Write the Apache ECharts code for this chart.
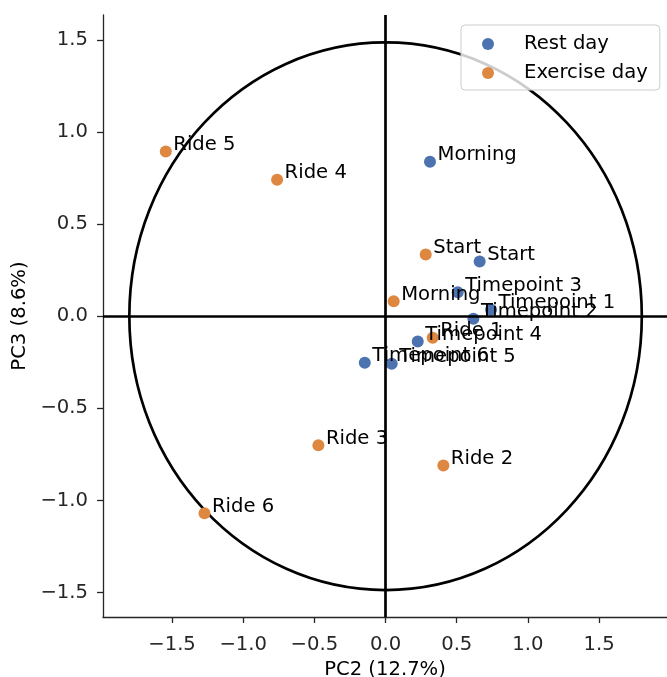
<!DOCTYPE html>
<html>
<head>
<meta charset="utf-8">
<script src="https://cdn.jsdelivr.net/npm/echarts@6/dist/echarts.min.js"></script>
<style>
  html, body { margin: 0; padding: 0; background: #ffffff; }
  #chart { width: 667px; height: 677px; }
</style>
</head>
<body>
<div id="chart"></div>
<script>
// PCA scores (PC2 vs PC3) for the two sampling days
const restNames = ['Morning', 'Start', 'Timepoint 3', 'Timepoint 1', 'Timepoint 2', 'Timepoint 4', 'Timepoint 6', 'Timepoint 5'];
const restPC2   = [0.312, 0.661, 0.507, 0.741, 0.617, 0.226, -0.146, 0.043];
const restPC3   = [0.839, 0.297, 0.130, 0.036, -0.014, -0.137, -0.253, -0.258];

const exerciseNames = ['Ride 5', 'Ride 4', 'Start', 'Morning', 'Ride 1', 'Ride 3', 'Ride 2', 'Ride 6'];
const exercisePC2   = [-1.544, -0.762, 0.282, 0.057, 0.331, -0.472, 0.406, -1.272];
const exercisePC3   = [0.895, 0.741, 0.335, 0.081, -0.116, -0.700, -0.810, -1.070];

const seriesNames = ['Rest day', 'Exercise day'];
const tickValues = [-1.5, -1.0, -0.5, 0.0, 0.5, 1.0, 1.5];
const xRange = [-1.985, 1.977];
const yRange = [-1.633, 1.636];

// confidence ellipse: centre and semi-axes in data units
const ellipseCentre = [0, 0];
const ellipseRadii = [1.80, 1.487];
// reference cross through the origin
const crossAt = [0, 0];

const FONT = 'DejaVu Sans';
const FS = 19.6;
const TEXT = '#000000';
const AXIS = '#262626';
const fmt = v => v.toFixed(1).replace('-', '\u2212');

function points(xs, ys, names) {
  return xs.map((x, i) => ({ name: names[i], value: [x, ys[i], names[i]] }));
}

const pointLabel = {
  show: true,
  formatter: p => p.data.name,
  position: [13.5, -0.6],
  align: 'left',
  verticalAlign: 'middle',
  fontFamily: FONT,
  fontSize: FS,
  lineHeight: FS,
  color: TEXT
};

function axisCommon(name) {
  return {
    type: 'value',
    name: name,
    nameLocation: 'middle',
    nameTextStyle: { fontFamily: FONT, fontSize: FS, color: TEXT },
    axisLine: { show: true, onZero: false, lineStyle: { color: AXIS, width: 1.3 } },
    axisTick: { show: true, length: 6, customValues: tickValues, lineStyle: { color: AXIS, width: 1.3 } },
    axisLabel: { customValues: tickValues, formatter: fmt, fontFamily: FONT, fontSize: FS, color: AXIS },
    splitLine: { show: false }
  };
}

const xAxis = axisCommon('PC2 (12.7%)');
Object.assign(xAxis, { min: xRange[0], max: xRange[1], nameGap: 42 });
xAxis.axisLabel.margin = 18;

const yAxis = axisCommon('PC3 (8.6%)');
Object.assign(yAxis, { min: yRange[0], max: yRange[1], nameGap: 70, nameRotate: 90 });
yAxis.axisLabel.margin = 15;

const chart = echarts.init(document.getElementById('chart'), null, { renderer: 'canvas' });

chart.setOption({
  animation: false,
  backgroundColor: '#ffffff',
  grid: { left: 103, right: 0, top: 15, bottom: 60, outerBoundsMode: 'none' },
  xAxis: xAxis,
  yAxis: yAxis,
  legend: {
    data: seriesNames,
    orient: 'vertical',
    left: 461,
    top: 25,
    padding: [9, 12, 7, 21],
    itemWidth: 12,
    itemHeight: 12,
    itemGap: 9,
    icon: 'circle',
    backgroundColor: 'rgba(255,255,255,0.8)',
    borderColor: '#cccccc',
    borderWidth: 1,
    borderRadius: 4,
    textStyle: { fontFamily: FONT, fontSize: FS, lineHeight: 19, color: TEXT, padding: [0, 0, 0, 25] }
  },
  series: [
    {
      type: 'custom',
      name: 'ellipse',
      coordinateSystem: 'cartesian2d',
      silent: true,
      z: 1,
      data: [[ellipseCentre[0], ellipseCentre[1], ellipseRadii[0], ellipseRadii[1]]],
      renderItem: function (params, api) {
        const c = api.coord([api.value(0), api.value(1)]);
        const s = api.size([api.value(2), api.value(3)]);
        return {
          type: 'ellipse',
          shape: { cx: c[0], cy: c[1], rx: s[0], ry: s[1] },
          style: { fill: 'none', stroke: '#000000', lineWidth: 2.7 }
        };
      },
      markLine: {
        silent: true,
        symbol: ['none', 'none'],
        label: { show: false },
        lineStyle: { type: 'solid', color: '#000000', width: 2.7 },
        emphasis: { disabled: true },
        data: [{ xAxis: crossAt[0] }, { yAxis: crossAt[1] }]
      }
    },
    {
      type: 'scatter',
      name: seriesNames[0],
      z: 3,
      symbol: 'circle',
      symbolSize: 12,
      itemStyle: { color: '#4c72b0', opacity: 1 },
      label: pointLabel,
      emphasis: { disabled: true },
      data: points(restPC2, restPC3, restNames)
    },
    {
      type: 'scatter',
      name: seriesNames[1],
      z: 3,
      symbol: 'circle',
      symbolSize: 12,
      itemStyle: { color: '#dd8740', opacity: 1 },
      label: pointLabel,
      emphasis: { disabled: true },
      data: points(exercisePC2, exercisePC3, exerciseNames)
    }
  ]
});
</script>
</body>
</html>
